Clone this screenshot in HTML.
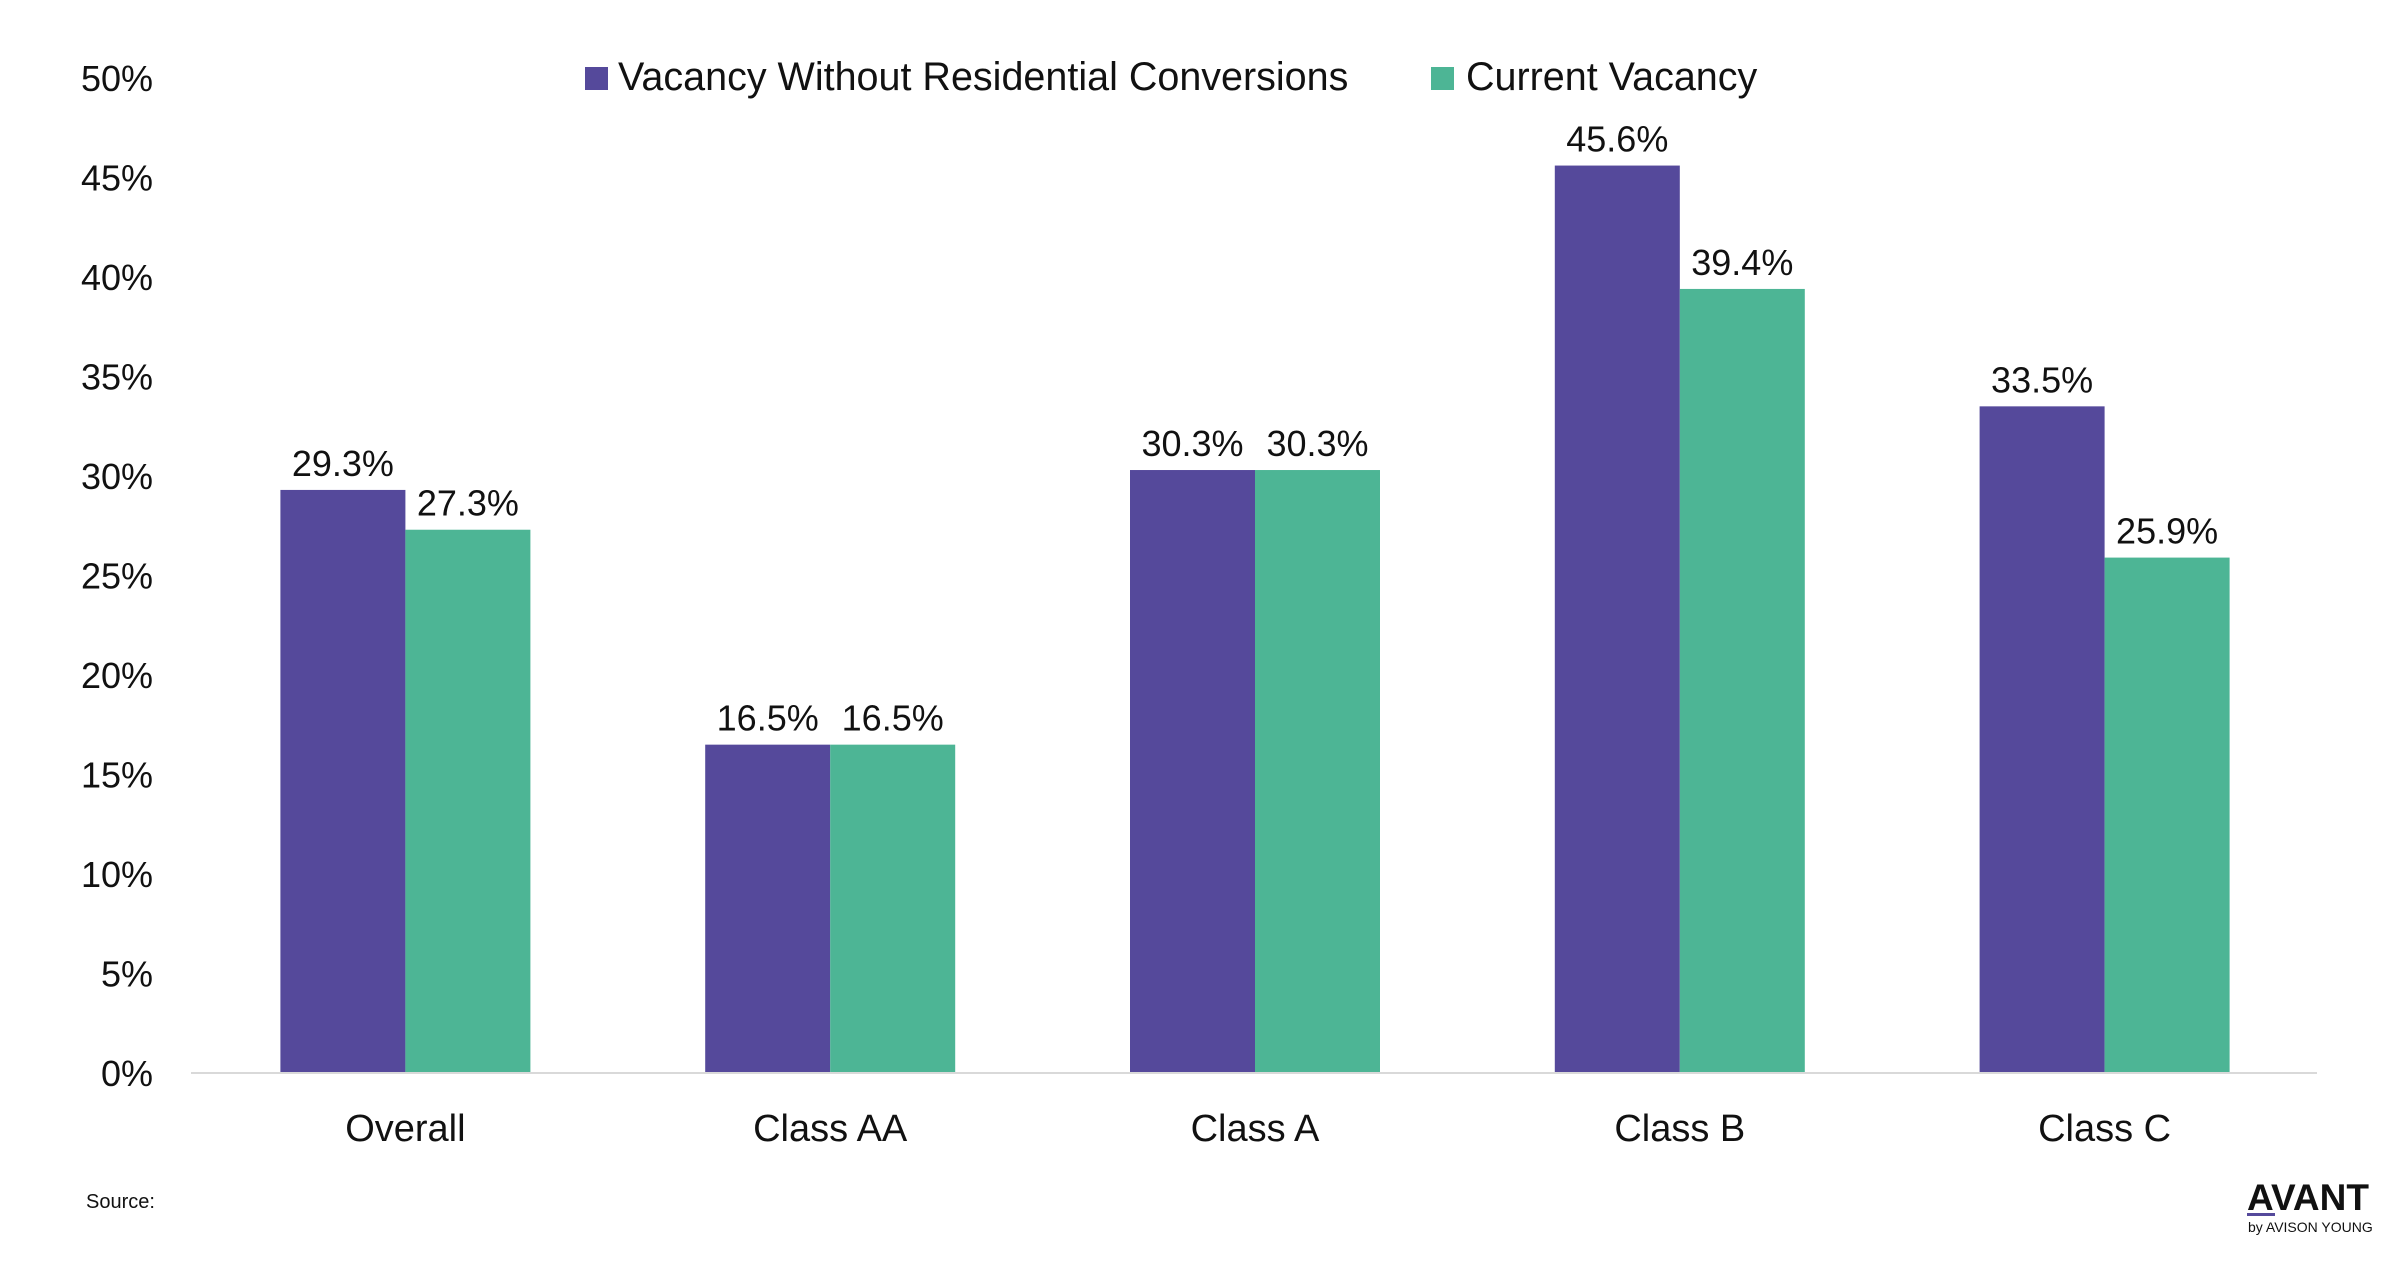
<!DOCTYPE html>
<html><head><meta charset="utf-8"><style>
html,body{margin:0;padding:0;background:#fff;}
body{width:2400px;height:1260px;overflow:hidden;font-family:"Liberation Sans",sans-serif;}
svg text{font-family:"Liberation Sans",sans-serif;fill:#111;}
</style></head><body>
<svg id="chart" width="2400" height="1260" viewBox="0 0 2400 1260" xmlns="http://www.w3.org/2000/svg">
<g id="legend">
 <rect x="585" y="67" width="23" height="23" fill="#55499b"/>
 <text x="618" y="90" font-size="39.5">Vacancy Without Residential Conversions</text>
 <rect x="1431" y="67" width="23" height="23" fill="#4db595"/>
 <text x="1466" y="90" font-size="39.5">Current Vacancy</text>
</g>
<g id="yaxis"></g>
<g id="bars"></g>
<g id="xaxis"></g>
<text x="86" y="1208" font-size="20">Source:</text>
<g>
 <text x="2247" y="1210" font-size="37" font-weight="bold">AVANT</text>
 <rect x="2247" y="1213" width="28" height="3" fill="#55499b"/>
 <text x="2248" y="1232" font-size="14">by AVISON YOUNG</text>
</g>
</svg>
<script>
const categories = ["Overall","Class AA","Class A","Class B","Class C"];
const withoutConversions = [29.3,16.5,30.3,45.6,33.5];
const currentVacancy = [27.3,16.5,30.3,39.4,25.9];
const yTicks = [0,5,10,15,20,25,30,35,40,45,50];

const NS="http://www.w3.org/2000/svg";
const x0=193, x1=2317, yBase=1073, yTop=78, yMax=50;
const band=(x1-x0)/categories.length, barW=125;
const y = v => yBase - (v/yMax)*(yBase-yTop);
const cx = i => x0 + band*(i+0.5);
function mk(tag, attrs, parent){const e=document.createElementNS(NS,tag);for(const k in attrs)e.setAttribute(k,attrs[k]);parent.appendChild(e);return e;}
const yaxis=document.getElementById('yaxis'), bars=document.getElementById('bars'), xaxis=document.getElementById('xaxis');
yTicks.forEach(t=>{
  const tx=mk('text',{x:153,y:y(t)+13,'font-size':36,'text-anchor':'end'},yaxis);
  tx.textContent=t+'%';
  
  
});
const base=mk('line',{x1:x0-2,x2:x1,y1:yBase,y2:yBase,stroke:'#d9d9d9','stroke-width':2},xaxis);


categories.forEach((c,i)=>{
  const series=[[withoutConversions[i],'#55499b',-barW,'without'],[currentVacancy[i],'#4db595',0,'current']];
  series.forEach(s=>{
    const r=mk('rect',{x:cx(i)+s[2],y:y(s[0]),width:barW,height:yBase-y(s[0]),fill:s[1]},bars);
    
    
    const l=mk('text',{x:cx(i)+s[2]+barW/2,y:y(s[0])-14,'font-size':36,'text-anchor':'middle'},bars);
    l.textContent=s[0].toFixed(1)+'%';
    
    
  });
  const t=mk('text',{x:cx(i),y:1141,'font-size':38,'text-anchor':'middle'},xaxis);
  t.textContent=c;
  
  
});
</script>
</body></html>
